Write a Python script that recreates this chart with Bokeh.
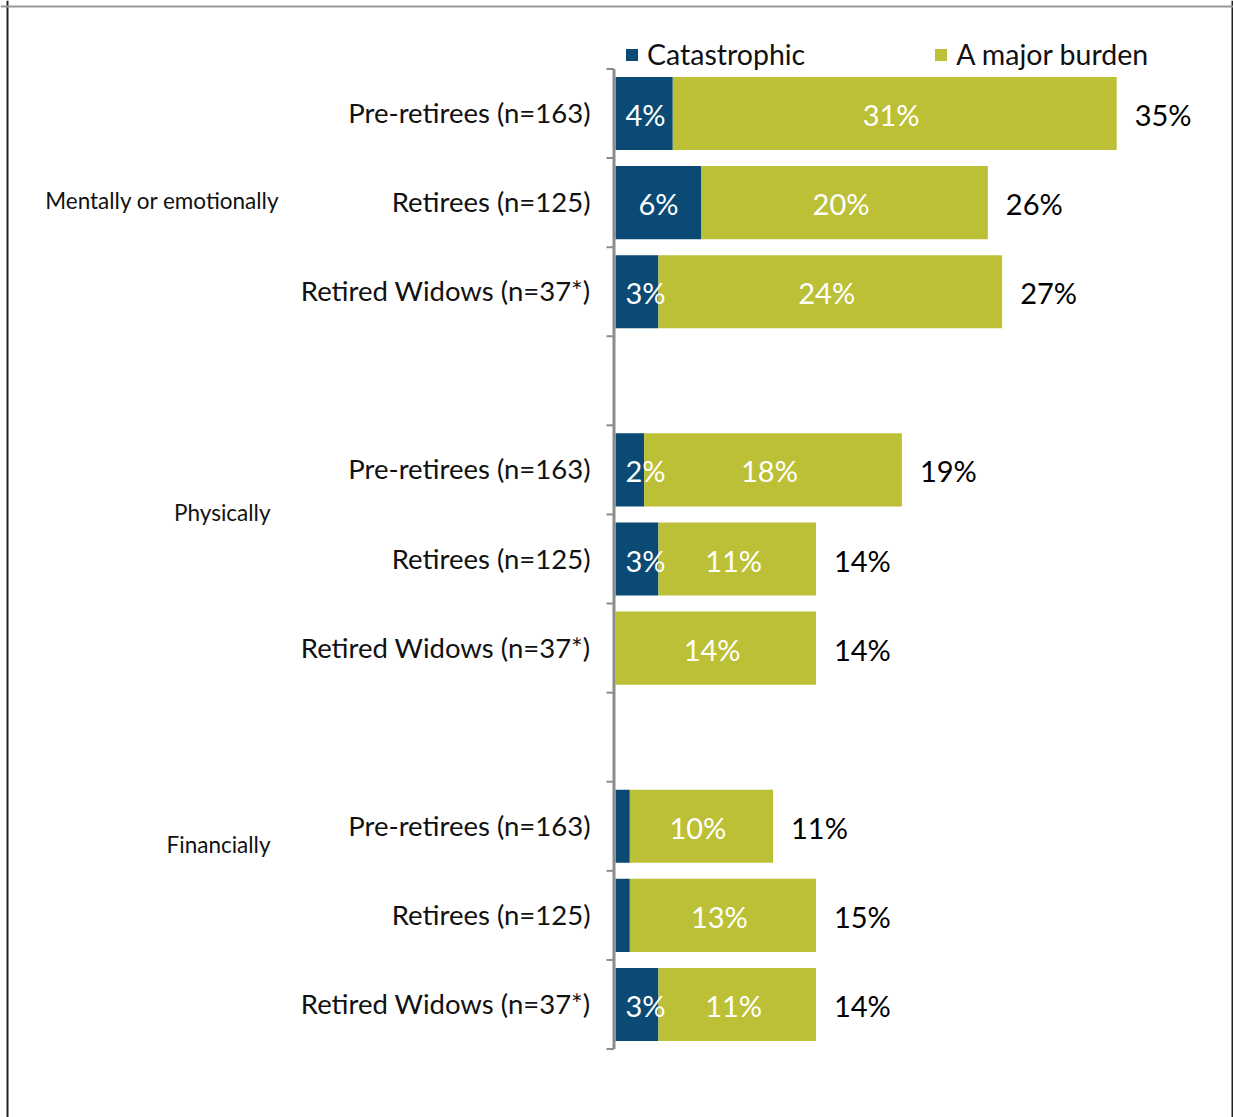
from bokeh.plotting import figure
from bokeh.models import Range1d, Span, Legend, LegendItem, ColumnDataSource
from bokeh.core.properties import value
from bokeh.embed import file_html
from bokeh.resources import INLINE

# ---------------- data ----------------
groups = ["Mentally or emotionally", "Physically", "Financially"]
segments = ["Pre-retirees (n=163)", "Retirees (n=125)", "Retired Widows (n=37*)"]
catastrophic = [4, 6, 3, 2, 3, 0, 1, 1, 3]
major_burden = [31, 20, 24, 18, 11, 14, 10, 13, 11]
totals = [35, 26, 27, 19, 14, 14, 11, 15, 14]
series_names = ["Catastrophic", "A major burden"]

# ---------------- styling ----------------
BLUE = "#0a4a74"
OLIVE = "#bcc036"
FONT = "Lato"
W, H = 1233, 1117
PX_X = 14.32          # px per percent
X0 = 615              # canvas x of 0 %
PX_Y = 89.1           # px per row slot
Y0 = 113              # canvas y of first row centre

x_range = Range1d(-X0 / PX_X, (W - X0) / PX_X)
y_range = Range1d((H - Y0) / PX_Y, -Y0 / PX_Y)

p = figure(width=W, height=H, x_range=x_range, y_range=y_range,
           output_backend="svg", toolbar_location=None,
           x_axis_location=None, y_axis_location=None,
           min_border=0, outline_line_color=None)
p.grid.visible = False

rows = []
for gi, g in enumerate(groups):
    for si, s in enumerate(segments):
        rows.append((gi, si, gi * 4 + si))

ys = [r[2] for r in rows]
maj_right = [c + m for c, m in zip(catastrophic, major_burden)]

src = ColumnDataSource(dict(
    y=ys,
    seg=[segments[r[1]] for r in rows],
    cat=catastrophic, maj=major_burden, tot=totals,
    maj_left=catastrophic, maj_right=maj_right,
    cat_lbl=[f"{c}%" if c >= 2 else "" for c in catastrophic],
    cat_x=[max(c / 2, 2.1) for c in catastrophic],
    maj_lbl=[f"{m}%" for m in major_burden],
    maj_x=[c + m / 2 - 0.25 for c, m in zip(catastrophic, major_burden)],
    tot_lbl=[f"{t}%" for t in totals],
))

BAR_H = 0.82
r_cat = p.hbar(y="y", left=0, right="cat", height=BAR_H, source=src,
               fill_color=BLUE, line_color=None)
r_maj = p.hbar(y="y", left="maj_left", right="maj_right", height=BAR_H,
               source=src, fill_color=OLIVE, line_color=None)

LBL_SIZE = "29px"
# in-bar labels
p.text(x="cat_x", y="y", text="cat_lbl", source=src, text_color="white",
       text_font=value(FONT), text_font_size=LBL_SIZE, text_align="center",
       text_baseline="middle", y_offset=1)
p.text(x="maj_x", y="y", text="maj_lbl", source=src, text_color="white",
       text_font=value(FONT), text_font_size=LBL_SIZE, text_align="center",
       text_baseline="middle", y_offset=1)
# totals
p.text(x="maj_right", y="y", text="tot_lbl", source=src, text_color="black",
       text_font=value(FONT), text_font_size=LBL_SIZE, text_align="left",
       text_baseline="middle", x_offset=18, y_offset=1)

# category labels (right aligned next to axis)
p.text(x=-(X0 - 590) / PX_X, y="y", text="seg", source=src, text_color="#111111",
       text_font=value(FONT), text_font_size="27.5px", text_align="right",
       text_baseline="middle", y_offset=-1)

# group labels
grp_x = [279, 270, 270]
grp_y = [0.976, 4.478, 8.204]
p.text(x=[(gx - X0) / PX_X for gx in grp_x], y=grp_y, text=groups,
       text_color="#111111", text_font=value(FONT), text_font_size="22.5px",
       text_align="right", text_baseline="middle")

# vertical axis line with boundary ticks
ticks = [i - 0.5 for i in range(12)]
AX_X = (613.5 - X0) / PX_X
TICK_X = (606 - X0) / PX_X
p.segment(x0=[AX_X], x1=[AX_X], y0=[ticks[0]], y1=[ticks[-1]],
          line_color="#8c8c8c", line_width=3)
p.segment(x0=[TICK_X] * len(ticks), x1=[AX_X] * len(ticks), y0=ticks, y1=ticks,
          line_color="#8c8c8c", line_width=2)

# legend
legend = Legend(items=[LegendItem(label=series_names[0], renderers=[r_cat]),
                       LegendItem(label=series_names[1], renderers=[r_maj])],
                orientation="horizontal", location=(624, H - 71),
                glyph_width=15, glyph_height=15, label_standoff=8,
                label_text_font=FONT, label_text_font_size="28.5px",
                label_text_color="#111111", spacing=128,
                padding=0, margin=0, border_line_color=None,
                background_fill_alpha=0)
p.add_layout(legend)

# outer border (left, top, right)
p.add_layout(Span(location=(7 - X0) / PX_X, dimension="height",
                  line_color="#222222", line_width=2))
p.add_layout(Span(location=(1232 - X0) / PX_X, dimension="height",
                  line_color="#222222", line_width=2))
p.add_layout(Span(location=(6 - Y0) / PX_Y, dimension="width",
                  line_color="#999999", line_width=2))

open("out.html", "w").write(file_html(p, INLINE))
